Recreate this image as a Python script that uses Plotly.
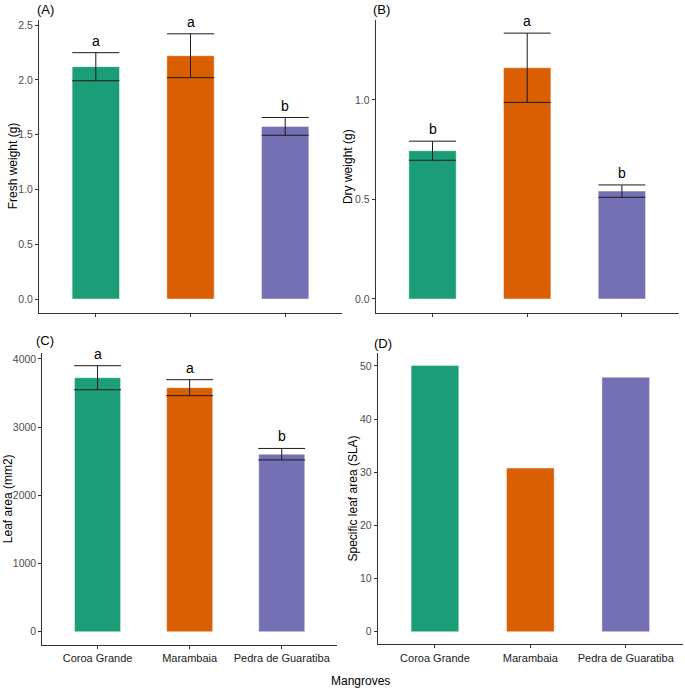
import plotly.graph_objects as go

W, H = 685, 694

sites = ["Coroa Grande", "Marambaia", "Pedra de Guaratiba"]
colors = ["#1B9E77", "#D95F02", "#7570B3"]

fresh_weight = [2.12, 2.22, 1.575]
fresh_se = [0.128, 0.20, 0.081]
fresh_letters = ["a", "a", "b"]

dry_weight = [0.745, 1.162, 0.542]
dry_se = [0.048, 0.174, 0.031]
dry_letters = ["b", "a", "b"]

leaf_area = [3724, 3578, 2603]
leaf_area_se = [176, 117, 84]
area_letters = ["a", "a", "b"]

sla = [50.1, 30.8, 47.9]

FONT = "Arial, Liberation Sans, sans-serif"


def px_x(a, b):
    return [a / W, b / W]


def px_y(top, bottom):
    return [1 - bottom / H, 1 - top / H]


# (xdomain, ydomain, yrange, ticks, tickformat, ytitle, tag)
panels = [
    (px_x(39, 342), px_y(20, 312.7), [-0.125, 2.546], [0, 0.5, 1.0, 1.5, 2.0, 2.5], ".1f", "Fresh weight (g)", "(A)"),
    (px_x(375.7, 678.7), px_y(20, 312.7), [-0.069, 1.402], [0, 0.5, 1.0], ".1f", "Dry weight (g)", "(B)"),
    (px_x(42.3, 337), px_y(353.3, 645), [-195, 4082], [0, 1000, 2000, 3000, 4000], "d", "Leaf area (mm2)", "(C)"),
    (px_x(377.7, 683), px_y(352.7, 644.3), [-2.37, 52.5], [0, 10, 20, 30, 40, 50], "d", "Specific leaf area (SLA)", "(D)"),
]

series = [
    (fresh_weight, fresh_se, fresh_letters),
    (dry_weight, dry_se, dry_letters),
    (leaf_area, leaf_area_se, area_letters),
    (sla, None, None),
]

fig = go.Figure()
annotations = []
layout = {}

for i, ((xd, yd, yr, tv, tf, ytitle, tag), (vals, se, letters)) in enumerate(zip(panels, series)):
    n = "" if i == 0 else str(i + 1)
    xa, ya = "x" + n, "y" + n
    err = None
    if se is not None:
        err = dict(type="data", array=se, visible=True, color="#1a1a1a",
                   thickness=1, width=23.5)
    fig.add_trace(go.Bar(
        x=sites, y=vals, xaxis=xa, yaxis=ya, width=0.5,
        marker=dict(color=colors, line=dict(color="rgba(255,255,255,0.45)", width=1)),
        error_y=err, showlegend=False,
    ))
    show_xlabels = i >= 2
    layout["xaxis" + n] = dict(
        domain=xd, anchor=ya, range=[-0.6, 2.6], showline=True, linecolor="#333333",
        linewidth=1, ticks="outside", ticklen=3, tickcolor="#333333",
        showticklabels=show_xlabels, showgrid=False, zeroline=False,
        tickfont=dict(family=FONT, size=11, color="#1a1a1a"), fixedrange=True,
    )
    layout["yaxis" + n] = dict(
        domain=yd, anchor=xa, range=yr, tickvals=tv, tickformat=tf, showline=True,
        linecolor="#333333", linewidth=1, ticks="outside", ticklen=3,
        tickcolor="#333333", showgrid=False, zeroline=False,
        tickfont=dict(family=FONT, size=10.5, color="#4d4d4d"), fixedrange=True,
    )
    # y-axis title
    title_x = [13, 348.7, 8, 353][i]
    annotations.append(dict(
        text=ytitle, textangle=-90, xref="paper", yref="paper",
        x=title_x / W, y=(yd[0] + yd[1]) / 2, showarrow=False,
        xanchor="center", yanchor="middle",
        font=dict(family=FONT, size=12, color="#000000"),
    ))
    # panel tag
    tag_xy = [(45, 9), (381.7, 9), (45, 340.7), (383, 343)][i]
    annotations.append(dict(
        text=tag, xref="paper", yref="paper", x=tag_xy[0] / W, y=1 - tag_xy[1] / H,
        showarrow=False, xanchor="center", yanchor="middle",
        font=dict(family=FONT, size=13, color="#000000"),
    ))
    # significance letters
    if letters is not None:
        for s, v, e, l in zip(sites, vals, se, letters):
            annotations.append(dict(
                text=l, xref=xa, yref=ya, x=s, y=v + e, showarrow=False,
                xanchor="center", yanchor="middle", yshift=12,
                font=dict(family=FONT, size=14, color="#000000"),
            ))

annotations.append(dict(
    text="Mangroves", xref="paper", yref="paper", x=360 / W, y=1 - 681 / H,
    showarrow=False, xanchor="center", yanchor="middle",
    font=dict(family=FONT, size=12, color="#000000"),
))

fig.update_layout(
    width=W, height=H,
    margin=dict(l=0, r=0, t=0, b=0),
    paper_bgcolor="white", plot_bgcolor="white",
    bargap=0.5,
    annotations=annotations,
    font=dict(family=FONT),
    **layout,
)

fig.write_html("out.html", config={"displayModeBar": False},
               post_script="document.body.style.margin='0';")
